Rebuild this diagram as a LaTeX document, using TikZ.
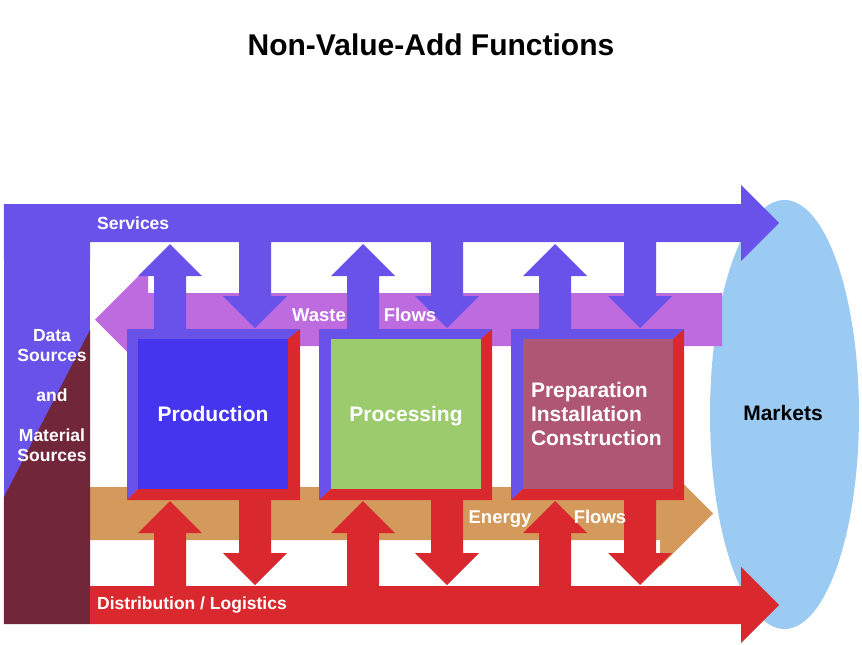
\documentclass[tikz,border=0pt]{standalone}
\usepackage{fontspec}
\setmainfont{Liberation Sans}
\definecolor{servpurple}{RGB}{104,82,234}
\definecolor{wastepink}{RGB}{190,107,224}
\definecolor{energytan}{RGB}{212,154,92}
\definecolor{distred}{RGB}{217,41,46}
\definecolor{srcmaroon}{RGB}{114,38,57}
\definecolor{marketblue}{RGB}{155,203,243}
\definecolor{prodblue}{RGB}{69,53,238}
\definecolor{procgreen}{RGB}{155,203,108}
\definecolor{prepmauve}{RGB}{174,86,115}
\begin{document}
\begin{tikzpicture}[x=10pt,y=10pt]
	\tikzstyle{every node}+=[inner sep=0pt, font=\fontsize{17.5}{20}\selectfont\bfseries, text=white]
	\tikzstyle{flowlabel}=[font=\fontsize{18.5}{20}\selectfont\bfseries]
	\tikzstyle{funcbox}=[minimum width=150pt, minimum height=150pt, font=\fontsize{21}{24}\selectfont\bfseries]
	\useasboundingbox (0,0) rectangle (86.2,-64.5);
	\node (title) [text=black, font=\fontsize{30}{34}\selectfont\bfseries] at (43.1,-4.5) {Non-Value-Add Functions};
	% markets
	\fill [marketblue] (78.45,-41.45) ellipse (7.45 and 21.45);
	\node (markets) [text=black, font=\fontsize{21}{24}\selectfont\bfseries] at (78.3,-41.3) {Markets};
	% waste and energy flows
	\fill [wastepink] (72.2,-29.3) -- (14.8,-29.3) -- (14.8,-26.65) -- (9.5,-31.95) -- (14.8,-37.25) -- (14.8,-34.6) -- (72.2,-34.6) -- cycle;
	\fill [energytan] (9.0,-48.7) -- (66.0,-48.7) -- (66.0,-46.05) -- (71.3,-51.35) -- (66.0,-56.65) -- (66.0,-54.0) -- (9.0,-54.0) -- cycle;
	% sources column
	\fill [servpurple] (0.4,-20.4) rectangle (9.0,-62.4);
	\fill [srcmaroon] (9.0,-33.0) -- (9.0,-62.4) -- (0.4,-62.4) -- (0.4,-49.7) -- cycle;
	% services and distribution
	\fill [servpurple] (0.4,-20.4) -- (74.1,-20.4) -- (74.1,-18.5) -- (77.9,-22.3) -- (74.1,-26.1) -- (74.1,-24.2) -- (9.0,-24.2) -- (9.0,-26) -- (0.4,-26) -- cycle;
	\fill [distred] (9.0,-58.6) -- (74.1,-58.6) -- (74.1,-56.7) -- (77.9,-60.5) -- (74.1,-64.3) -- (74.1,-62.4) -- (9.0,-62.4) -- cycle;
	% up and down arrows above the boxes
	\fill [servpurple] (15.4,-33.2) -- (15.4,-27.6) -- (13.8,-27.6) -- (17.0,-24.4) -- (20.2,-27.6) -- (18.6,-27.6) -- (18.6,-33.2) -- cycle;
	\fill [servpurple] (34.7,-33.2) -- (34.7,-27.6) -- (33.1,-27.6) -- (36.3,-24.4) -- (39.5,-27.6) -- (37.9,-27.6) -- (37.9,-33.2) -- cycle;
	\fill [servpurple] (53.9,-33.2) -- (53.9,-27.6) -- (52.3,-27.6) -- (55.5,-24.4) -- (58.7,-27.6) -- (57.1,-27.6) -- (57.1,-33.2) -- cycle;
	\fill [servpurple] (23.9,-24.0) -- (23.9,-29.6) -- (22.3,-29.6) -- (25.5,-32.8) -- (28.7,-29.6) -- (27.1,-29.6) -- (27.1,-24.0) -- cycle;
	\fill [servpurple] (43.1,-24.0) -- (43.1,-29.6) -- (41.5,-29.6) -- (44.7,-32.8) -- (47.9,-29.6) -- (46.3,-29.6) -- (46.3,-24.0) -- cycle;
	\fill [servpurple] (62.4,-24.0) -- (62.4,-29.6) -- (60.8,-29.6) -- (64.0,-32.8) -- (67.2,-29.6) -- (65.6,-29.6) -- (65.6,-24.0) -- cycle;
	% up and down arrows below the boxes
	\fill [distred] (15.4,-58.8) -- (15.4,-53.3) -- (13.8,-53.3) -- (17.0,-50.1) -- (20.2,-53.3) -- (18.6,-53.3) -- (18.6,-58.8) -- cycle;
	\fill [distred] (34.7,-58.8) -- (34.7,-53.3) -- (33.1,-53.3) -- (36.3,-50.1) -- (39.5,-53.3) -- (37.9,-53.3) -- (37.9,-58.8) -- cycle;
	\fill [distred] (53.9,-58.8) -- (53.9,-53.3) -- (52.3,-53.3) -- (55.5,-50.1) -- (58.7,-53.3) -- (57.1,-53.3) -- (57.1,-58.8) -- cycle;
	\fill [distred] (23.9,-49.8) -- (23.9,-55.3) -- (22.3,-55.3) -- (25.5,-58.5) -- (28.7,-55.3) -- (27.1,-55.3) -- (27.1,-49.8) -- cycle;
	\fill [distred] (43.1,-49.8) -- (43.1,-55.3) -- (41.5,-55.3) -- (44.7,-58.5) -- (47.9,-55.3) -- (46.3,-55.3) -- (46.3,-49.8) -- cycle;
	\fill [distred] (62.4,-49.8) -- (62.4,-55.3) -- (60.8,-55.3) -- (64.0,-58.5) -- (67.2,-55.3) -- (65.6,-55.3) -- (65.6,-49.8) -- cycle;
	% box frames
	\fill [servpurple] (12.7,-50.0) -- (12.7,-32.9) -- (30.0,-32.9) -- (28.8,-33.9) -- (13.8,-33.9) -- (13.8,-48.9) -- cycle;
	\fill [distred] (30.0,-32.9) -- (30.0,-50.0) -- (12.7,-50.0) -- (13.8,-48.9) -- (28.8,-48.9) -- (28.8,-33.9) -- cycle;
	\fill [servpurple] (31.9,-50.0) -- (31.9,-32.9) -- (49.2,-32.9) -- (48.1,-33.9) -- (33.1,-33.9) -- (33.1,-48.9) -- cycle;
	\fill [distred] (49.2,-32.9) -- (49.2,-50.0) -- (31.9,-50.0) -- (33.1,-48.9) -- (48.1,-48.9) -- (48.1,-33.9) -- cycle;
	\fill [servpurple] (51.1,-50.0) -- (51.1,-32.9) -- (68.4,-32.9) -- (67.3,-33.9) -- (52.3,-33.9) -- (52.3,-48.9) -- cycle;
	\fill [distred] (68.4,-32.9) -- (68.4,-50.0) -- (51.1,-50.0) -- (52.3,-48.9) -- (67.3,-48.9) -- (67.3,-33.9) -- cycle;
	\node (prod) [funcbox, fill=prodblue, text depth=0pt] at (21.3,-41.4) {Production};
	\node (proc) [funcbox, fill=procgreen, text depth=0pt] at (40.6,-41.4) {Processing};
	\node (prep) [funcbox, fill=prepmauve, align=left, text width=134pt, inner sep=8pt] at (59.8,-41.4) {Preparation\\Installation\\Construction};
	% labels
	\node (sources) [align=center] at (5.2,-39.6) {Data\\Sources\\[20pt]and\\[20pt]Material\\Sources};
	\node (services) [anchor=west] at (9.7,-22.3) {Services};
	\node (distrib) [anchor=west] at (9.7,-60.5) {Distribution / Logistics};
	\node (waste) [flowlabel] at (31.9,-31.5) {Waste};
	\node (wflows) [flowlabel] at (41.0,-31.5) {Flows};
	\node (energy) [flowlabel, anchor=base] at (50.0,-52.3) {Energy};
	\node (eflows) [flowlabel, anchor=base] at (60.0,-52.3) {Flows};
\end{tikzpicture}
\end{document}
